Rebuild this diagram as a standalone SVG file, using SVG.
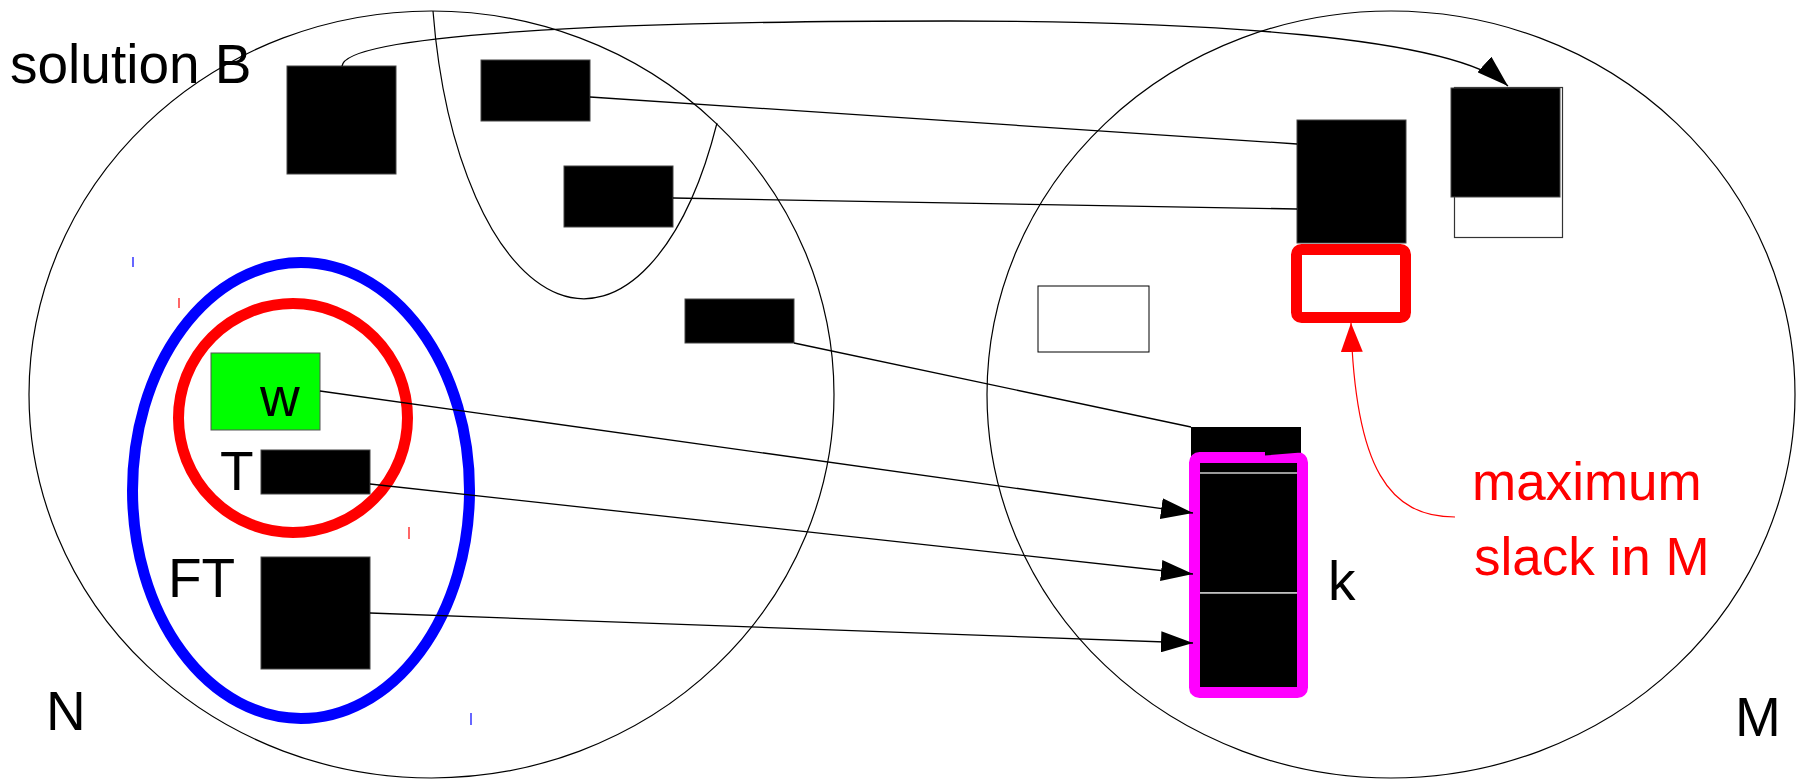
<svg xmlns="http://www.w3.org/2000/svg" width="1804" height="781" viewBox="0 0 1804 781">
<style>
  .lbl { font-family: "Liberation Sans", Arial, sans-serif; font-size: 55px; fill: #000; }
  .red { fill: #ff0000; font-size: 53px; }
  .blk { fill: #000; stroke: #444; stroke-width: 1; }
  .thin { fill: none; stroke: #000; stroke-width: 1.2; }
  .conn { fill: none; stroke: #000; stroke-width: 1.3; }
  .tick { stroke-width: 1.2; }
</style>
<defs>
  <marker id="ah" viewBox="0 0 32 21" refX="32" refY="10.5" markerWidth="32" markerHeight="21" markerUnits="userSpaceOnUse" orient="auto">
    <path d="M0,0 L32,10.5 L0,21 z" fill="#000"/>
  </marker>
  <marker id="ahr" viewBox="0 0 29 22" refX="29" refY="11" markerWidth="29" markerHeight="22" markerUnits="userSpaceOnUse" orient="auto-start-reverse">
    <path d="M0,0 L29,11 L0,22 z" fill="#ff0000"/>
  </marker>
</defs>
<rect width="1804" height="781" fill="#fff"/>

<g id="set-N">
  <ellipse cx="431.5" cy="394.5" rx="402.5" ry="383.5" class="thin"/>
  <text class="lbl" x="46" y="730">N</text>
</g>
<g id="set-M">
  <ellipse cx="1391" cy="394.5" rx="404" ry="383.5" class="thin"/>
  <text class="lbl" x="1735" y="736">M</text>
</g>
<g id="solution-B">
  <path d="M 433 11 A 153.3 349 0 0 0 717 123" class="thin"/>
  <text class="lbl" x="10" y="83">solution B</text>
</g>
<g id="FT-set">
  <ellipse cx="301" cy="490.5" rx="168.5" ry="228" fill="none" stroke="#0000ff" stroke-width="11"/>
</g>
<g id="T-set">
  <ellipse cx="293" cy="418" rx="114.5" ry="114.5" fill="none" stroke="#ff0000" stroke-width="11"/>
</g>
<g id="ticks">
  <line x1="133" y1="257" x2="133" y2="267" stroke="#0000ff" class="tick"/>
  <line x1="179" y1="298" x2="179" y2="308" stroke="#ff0000" class="tick"/>
  <line x1="409" y1="527" x2="409" y2="539" stroke="#ff0000" class="tick"/>
  <line x1="471" y1="713" x2="471" y2="725" stroke="#0000ff" class="tick"/>
</g>

<g id="n1"><rect x="287" y="66" width="109" height="108" class="blk"/></g>
<g id="n2"><rect x="481" y="60" width="109" height="61" class="blk"/></g>
<g id="n3"><rect x="564" y="166" width="109" height="61" class="blk"/></g>
<g id="n4"><rect x="685" y="299" width="109" height="44" class="blk"/></g>
<g id="node-w">
  <rect x="211" y="353" width="109" height="77" fill="#00ff00" stroke="#555" stroke-width="1"/>
  <text class="lbl" x="260" y="416">w</text>
</g>
<g id="node-T">
  <rect x="261" y="450" width="109" height="44" class="blk"/>
  <text class="lbl" x="220" y="490">T</text>
</g>
<g id="node-FT">
  <rect x="261" y="557" width="109" height="112" class="blk"/>
  <text class="lbl" x="168" y="597">FT</text>
</g>

<g id="m-white"><rect x="1038" y="286" width="111" height="66" fill="#fff" stroke="#000" stroke-width="1"/></g>
<g id="m-A"><rect x="1297" y="120" width="109" height="123" class="blk"/></g>
<g id="m-B">
  <rect x="1454.5" y="87.5" width="108" height="150" fill="#fff" stroke="#333" stroke-width="1.2"/>
  <rect x="1451" y="88" width="109" height="109" class="blk"/>
</g>
<g id="slack">
  <rect x="1296.5" y="249.5" width="109" height="68" rx="5" fill="#fff" stroke="#ff0000" stroke-width="11"/>
</g>
<g id="k-stack">
  <rect x="1191" y="427" width="110" height="46" fill="#000"/>
  <rect x="1191" y="473" width="110" height="120" fill="#000" stroke="#ccc" stroke-width="1.5"/>
  <rect x="1191" y="593" width="110" height="100" fill="#000" stroke="#ccc" stroke-width="1.5"/>
  <rect x="1194.5" y="457.5" width="108" height="235" rx="5" fill="none" stroke="#ff00ff" stroke-width="11"/>
  <polygon points="1265,451 1301,451 1301,452.5 1265,455.5" fill="#000"/>
  <text class="lbl" x="1328" y="600">k</text>
</g>

<g id="connectors">
  <path d="M 342 66 C 345 35, 600 21, 950 21 C 1200 21, 1453 36, 1508 86" class="conn" marker-end="url(#ah)"/>
  <line x1="590" y1="97" x2="1297" y2="144" class="conn"/>
  <line x1="673" y1="198" x2="1297" y2="209" class="conn"/>
  <line x1="794" y1="343" x2="1191" y2="427" class="conn"/>
  <line x1="320" y1="391" x2="1193" y2="513" class="conn" marker-end="url(#ah)"/>
  <line x1="370" y1="484" x2="1193" y2="574" class="conn" marker-end="url(#ah)"/>
  <line x1="370" y1="613" x2="1193" y2="643" class="conn" marker-end="url(#ah)"/>
  <path d="M 1351 323 C 1355 470, 1390 517, 1455 517" fill="none" stroke="#ff0000" stroke-width="1.2" marker-start="url(#ahr)"/>
</g>

<g id="annotation">
  <text class="lbl red" x="1472" y="500">maximum</text>
  <text class="lbl red" x="1474" y="575">slack in M</text>
</g>
</svg>
